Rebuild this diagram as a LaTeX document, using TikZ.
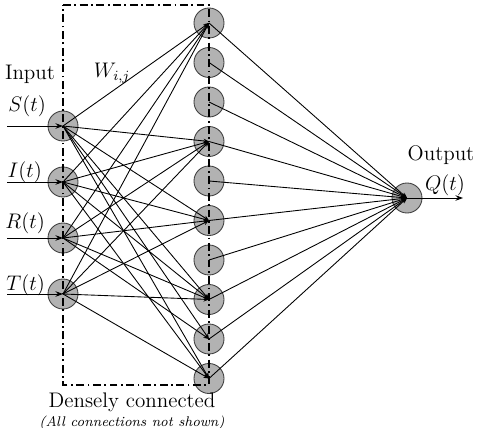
\documentclass[tikz,border=0pt]{standalone}
\usepackage{tikz}
\usetikzlibrary{arrows.meta,positioning}
\tikzset{
  neuron/.style={circle, draw=black!75, line width=0.5pt, fill=gray!60,
    minimum size=0.6cm, inner sep=0pt},
  conn/.style={-{Stealth[length=1.1mm,width=0.9mm]}, line width=0.5pt},
  feed/.style={-{Stealth[length=1.5mm,width=1.1mm]}, line width=0.5pt},
  boxline/.style={line width=0.9pt, dash pattern=on 4.5pt off 2pt on 1pt off 2pt},
  lbl/.style={inner sep=1pt}
}
\begin{document}
\begin{tikzpicture}[x=0.02cm, y=-0.02cm, font=\large]
  \useasboundingbox (0,0) rectangle (479,428);

  % layers
  \foreach \name/\y in {S/126, I/182, R/238, T/294}
    \node[neuron] (in\name) at (63,\y) {};
  \foreach \k in {1,...,10}
    \node[neuron] (h\k) at (209,{23+39.5*(\k-1)}) {};
  \node[neuron] (out) at (407,198) {};

  % incoming signals
  \foreach \name/\y in {S/126, I/182, R/238, T/294} {
    \coordinate (src\name) at (7,\y);
    \draw[feed] (src\name) -- (in\name.center);
  }

  % weights (only some of them)
  \foreach \h in {1,4,6,8,9,10} \draw[conn] (inS.center) -- (h\h.center);
  \foreach \h in {1,4,6,8,10} \draw[conn] (inI.center) -- (h\h.center);
  \foreach \h in {1,4,6,8,9} \draw[conn] (inR.center) -- (h\h.center);
  \foreach \h in {1,4,6,8,10} \draw[conn] (inT.center) -- (h\h.center);
  \foreach \k in {1,...,10} \draw[conn] (h\k.center) -- (out.center);

  \coordinate (sink) at (463,198);
  \draw[feed] (out.center) -- (sink);

  % dense block
  \coordinate (boxtl) at (63,5);
  \coordinate (boxtr) at (209,5);
  \coordinate (boxbr) at (209,385);
  \coordinate (boxbl) at (63,385);
  \draw[boxline] (boxtl) -- (boxtr) -- (boxbr) -- (boxbl) -- cycle;

  % labels
  \node[lbl] (inputlbl) at (30,74) {Input};
  \node[lbl, anchor=east] (lblS) at (48,106) {$S(t)$};
  \node[lbl, anchor=east] (lblI) at (44,172) {$I(t)$};
  \node[lbl, anchor=east] (lblR) at (47,223) {$R(t)$};
  \node[lbl, anchor=east] (lblT) at (47,285) {$T(t)$};
  \node[lbl] (wlbl) at (112,73) {$W_{i,j}$};
  \node[lbl] (outputlbl) at (441,155) {Output};
  \node[lbl] (lblQ) at (445,185) {$Q(t)$};
  \node[lbl] (dense) at (132,402) {Densely connected};
  \node[lbl, font=\footnotesize\itshape, below=0pt of dense] (note) {(All connections not shown)};
\end{tikzpicture}
\end{document}
